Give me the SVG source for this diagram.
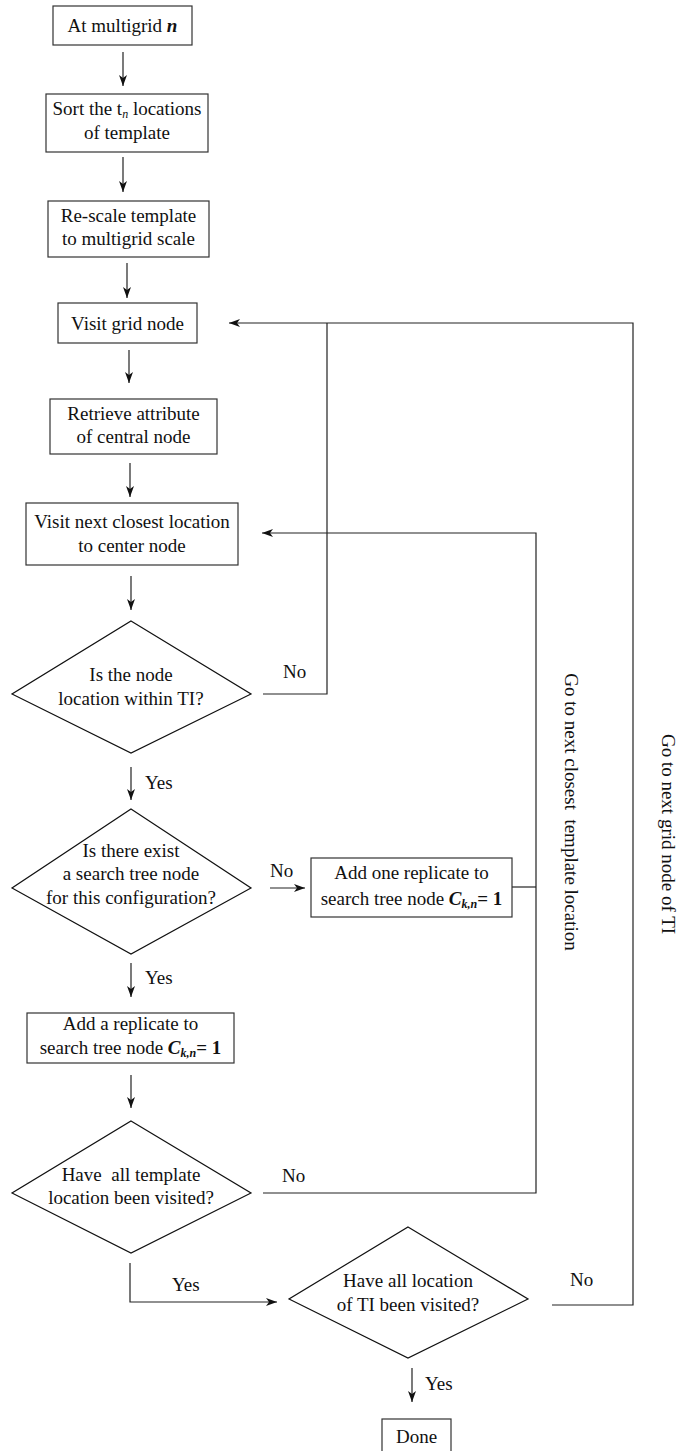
<svg xmlns="http://www.w3.org/2000/svg" width="680" height="1451" viewBox="0 0 680 1451">
  <style>
    .box { fill: #ffffff; stroke: #333333; stroke-width: 1.2; }
    .dia { fill: #ffffff; stroke: #111111; stroke-width: 1.2; }
    .wire { fill: none; stroke: #222222; stroke-width: 1.2; }
    .t { font-family: "Liberation Serif", "Times New Roman", serif; font-size: 19px; fill: #111111; text-anchor: middle; }
    .lbl { font-family: "Liberation Serif", "Times New Roman", serif; font-size: 19px; fill: #111111; }
    .bi { font-weight: bold; font-style: italic; }
    .b { font-weight: bold; }
  </style>
  <defs>
    <marker id="arrow" markerUnits="userSpaceOnUse" markerWidth="11" markerHeight="8" refX="11" refY="4" orient="auto">
      <path d="M0,0 L11,4 L0,8 L3,4 z" fill="#111111"/>
    </marker>
  </defs>

  <!-- connectors -->
  <g id="connectors">
    <line class="wire" x1="123" y1="52" x2="123" y2="86" marker-end="url(#arrow)"/>
    <line class="wire" x1="123" y1="157" x2="123" y2="192" marker-end="url(#arrow)"/>
    <line class="wire" x1="127" y1="263" x2="127" y2="298" marker-end="url(#arrow)"/>
    <line class="wire" x1="129" y1="350" x2="129" y2="383" marker-end="url(#arrow)"/>
    <line class="wire" x1="130" y1="463" x2="130" y2="497" marker-end="url(#arrow)"/>
    <line class="wire" x1="131" y1="576" x2="131" y2="610" marker-end="url(#arrow)"/>
    <line class="wire" x1="131" y1="767" x2="131" y2="800" marker-end="url(#arrow)"/>
    <line class="wire" x1="270" y1="888" x2="305" y2="888" marker-end="url(#arrow)"/>
    <line class="wire" x1="131" y1="963" x2="131" y2="997" marker-end="url(#arrow)"/>
    <line class="wire" x1="131" y1="1075" x2="131" y2="1108" marker-end="url(#arrow)"/>
    <polyline class="wire" points="130,1263 130,1302 277,1302" marker-end="url(#arrow)"/>
    <line class="wire" x1="412" y1="1368" x2="412" y2="1402" marker-end="url(#arrow)"/>
    <!-- node outside TI: back to next grid node -->
    <polyline class="wire" points="263,694 327,694 327,323"/>
    <!-- loop over all grid nodes of TI -->
    <polyline class="wire" points="552,1305 633,1305 633,323 229,323" marker-end="url(#arrow)"/>
    <!-- loop over template locations -->
    <polyline class="wire" points="263,1193 536,1193 536,533 262,533" marker-end="url(#arrow)"/>
    <line class="wire" x1="512" y1="887" x2="536" y2="887"/>
  </g>

  <!-- connector labels -->
  <g id="labels">
    <text class="lbl" x="283" y="678">No</text>
    <text class="lbl" x="145" y="789">Yes</text>
    <text class="lbl" x="270" y="877">No</text>
    <text class="lbl" x="145" y="984">Yes</text>
    <text class="lbl" x="282" y="1182">No</text>
    <text class="lbl" x="172" y="1291">Yes</text>
    <text class="lbl" x="570" y="1286">No</text>
    <text class="lbl" x="425" y="1390">Yes</text>
    <text class="t" transform="translate(565,812) rotate(90)" xml:space="preserve">Go to next closest  template location</text>
    <text class="t" transform="translate(662,834) rotate(90)">Go to next grid node of TI</text>
  </g>

  <g id="start">
    <rect class="box" x="53" y="6" width="139" height="39"/>
    <text class="t" x="122.5" y="32">At multigrid <tspan class="bi">n</tspan></text>
  </g>

  <g id="sort">
    <rect class="box" x="46" y="94" width="162" height="58"/>
    <text class="t" x="127" y="115">Sort the t<tspan font-size="12" font-style="italic" dy="3">n</tspan><tspan dy="-3"> locations</tspan></text>
    <text class="t" x="127" y="139">of template</text>
  </g>

  <g id="rescale">
    <rect class="box" x="48" y="201" width="161" height="56"/>
    <text class="t" x="128.5" y="222">Re-scale template</text>
    <text class="t" x="128.5" y="245">to multigrid scale</text>
  </g>

  <g id="visit-grid">
    <rect class="box" x="58" y="303" width="139" height="40"/>
    <text class="t" x="127.5" y="330">Visit grid node</text>
  </g>

  <g id="retrieve">
    <rect class="box" x="50" y="399" width="167" height="55"/>
    <text class="t" x="133.5" y="420">Retrieve attribute</text>
    <text class="t" x="133.5" y="443">of central node</text>
  </g>

  <g id="visit-next">
    <rect class="box" x="26" y="503" width="212" height="62"/>
    <text class="t" x="132" y="528">Visit next closest location</text>
    <text class="t" x="132" y="552">to center node</text>
  </g>

  <g id="within-ti">
    <polygon class="dia" points="131,621 251,694 131,753 12,694"/>
    <text class="t" x="131" y="681">Is the node</text>
    <text class="t" x="131" y="705">location within TI?</text>
  </g>

  <g id="tree-exists">
    <polygon class="dia" points="131,809 251,888 131,954 12,888"/>
    <text class="t" x="131" y="857">Is there exist</text>
    <text class="t" x="131" y="880">a search tree node</text>
    <text class="t" x="131" y="904">for this configuration?</text>
  </g>

  <g id="add-one">
    <rect class="box" x="311" y="858" width="201" height="59"/>
    <text class="t" x="411.5" y="879">Add one replicate to</text>
    <text class="t" x="411.5" y="905">search tree node <tspan class="bi">C</tspan><tspan class="bi" font-size="12" dy="3">k,n</tspan><tspan class="b" dy="-3">= 1</tspan></text>
  </g>

  <g id="add-a">
    <rect class="box" x="27" y="1013" width="207" height="50"/>
    <text class="t" x="130.5" y="1030">Add a replicate to</text>
    <text class="t" x="130.5" y="1054">search tree node <tspan class="bi">C</tspan><tspan class="bi" font-size="12" dy="3">k,n</tspan><tspan class="b" dy="-3">= 1</tspan></text>
  </g>

  <g id="template-visited">
    <polygon class="dia" points="131,1121 251,1193 131,1253 12,1193"/>
    <text class="t" x="131" y="1181" xml:space="preserve">Have  all template</text>
    <text class="t" x="131" y="1204">location been visited?</text>
  </g>

  <g id="ti-visited">
    <polygon class="dia" points="408,1227 528,1299 408,1358 289,1299"/>
    <text class="t" x="408" y="1287">Have all location</text>
    <text class="t" x="408" y="1311">of TI been visited?</text>
  </g>

  <g id="done">
    <rect class="box" x="382" y="1419" width="69" height="40"/>
    <text class="t" x="416.5" y="1443">Done</text>
  </g>
</svg>
